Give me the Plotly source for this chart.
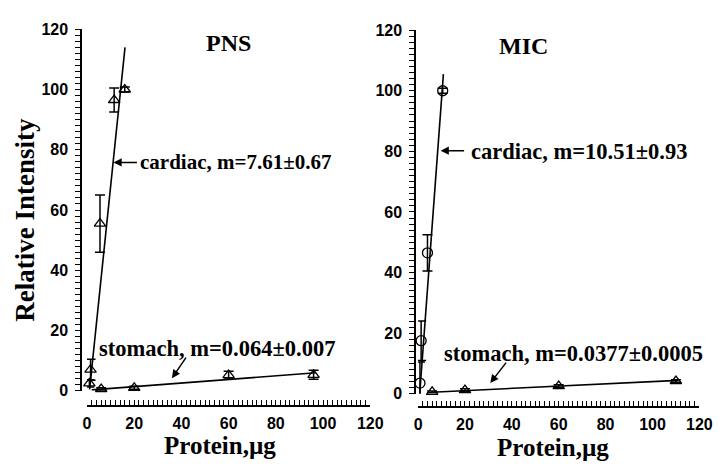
import plotly.graph_objects as go

W, H = 727, 476

# ---- data ----
# PNS panel
pns_card_x = [1.5, 5.5, 11.5, 16.0]
pns_card_y = [7.0, 55.5, 96.5, 100.0]
pns_card_err = [3.5, 9.5, 4.0, 0.8]
pns_stom_x = [1.0, 6.0, 20.0, 60.0, 96.0]
pns_stom_y = [2.5, 0.6, 1.0, 5.2, 5.3]
pns_stom_err = [1.2, 0.4, 0.5, 1.3, 1.5]
pns_card_fit_x = [1.1, 16.1]
pns_card_fit_y = [0.5, 114.0]
pns_stom_fit_x = [2.0, 97.0]
pns_stom_fit_y = [0.3, 6.0]

# MIC panel
mic_card_x = [0.8, 1.3, 4.0, 10.5]
mic_card_y = [3.5, 17.5, 46.5, 100.0]
mic_card_err = [7.0, 6.5, 6.0, 0.8]
mic_stom_x = [6.0, 20.0, 60.0, 110.0]
mic_stom_y = [0.6, 1.2, 2.5, 4.2]
mic_stom_err = [0.3, 0.4, 0.5, 0.4]
mic_card_fit_x = [0.7, 10.8]
mic_card_fit_y = [0.0, 105.5]
mic_stom_fit_x = [6.0, 111.0]
mic_stom_fit_y = [0.5, 4.4]

axis_range = [0, 120]
tick_labels = ["0", "20", "40", "60", "80", "100", "120"]
tick_positions = list(range(0, 121, 2))   # minor tick every 2, label every 20

panel_titles = ["PNS", "MIC"]
card_labels = ["cardiac, m=7.61\u00b10.67", "cardiac, m=10.51\u00b10.93"]
stom_labels = ["stomach, m=0.064\u00b10.007", "stomach, m=0.0377\u00b10.0005"]
x_title = "Protein,\u00b5g"
y_title = "Relative Intensity"

# ---- helpers ----
def px(x):
    return x / W

def py(y):
    return 1 - y / H

SERIF = "Times New Roman, Liberation Serif, serif"
SANS = "Arial, Liberation Sans, sans-serif"

label_map = {int(t): t for t in tick_labels}
tick_text = [label_map.get(v, "") for v in tick_positions]

fig = go.Figure()
layout = {}

def add_panel(n, cx, cy, ce, csym, sx, sy, se, cfx, cfy, sfx, sfy):
    xa, ya = ("x" if n == 1 else f"x{n}"), ("y" if n == 1 else f"y{n}")
    for fx, fy in ((cfx, cfy), (sfx, sfy)):
        fig.add_trace(go.Scatter(x=fx, y=fy, mode="lines", xaxis=xa, yaxis=ya,
                                 line=dict(color="black", width=1.6), showlegend=False))
    for mx, my, me, sym in ((cx, cy, ce, csym), (sx, sy, se, "triangle-up-open")):
        fig.add_trace(go.Scatter(x=mx, y=my, mode="markers", xaxis=xa, yaxis=ya,
                                 marker=dict(symbol=sym, size=10, color="black",
                                             line=dict(width=1.3, color="black")),
                                 error_y=dict(type="data", array=me, color="black",
                                              thickness=1.5, width=5),
                                 cliponaxis=False, showlegend=False))

def shown_axis(tickdir, standoff):
    return dict(range=axis_range, visible=True,
                showline=True, linecolor="black", linewidth=1.6, showgrid=False, zeroline=False,
                tickmode="array", tickvals=tick_positions, ticktext=tick_text,
                ticks=tickdir, ticklen=5, tickwidth=1.3, tickcolor="black",
                tickfont=dict(family=SANS, size=16, color="black", weight="bold"),
                ticklabelstandoff=standoff)

def hidden_axis(domain, anchor, rng=axis_range):
    return dict(domain=domain, anchor=anchor, range=rng, visible=False,
                showgrid=False, zeroline=False)

def empty_trace(xa, ya):
    fig.add_trace(go.Scatter(x=[None], y=[None], xaxis=xa, yaxis=ya,
                             mode="markers", showlegend=False, hoverinfo="skip"))

def setup_panel(n, xd, yd, xline_y, yline_x, xs, ys):
    layout[f"xaxis{xs}"] = dict(shown_axis("inside", 3), domain=[px(xd[0]), px(xd[1])],
                                anchor=f"y{xs}", side="bottom")
    layout[f"yaxis{xs}"] = hidden_axis([py(xline_y), py(xline_y - 4)], f"x{xs}")
    layout[f"yaxis{ys}"] = dict(shown_axis("outside", 4), domain=[py(yd[0]), py(yd[1])],
                                anchor=f"x{ys}", side="left")
    layout[f"xaxis{ys}"] = hidden_axis([px(yline_x), px(yline_x + 4)], f"y{ys}")
    empty_trace(f"x{xs}", f"y{xs}")
    empty_trace(f"x{ys}", f"y{ys}")
    xk = "xaxis" if n == 1 else f"xaxis{n}"
    yk = "yaxis" if n == 1 else f"yaxis{n}"
    layout[xk] = hidden_axis([px(xd[0]), px(xd[1])], "y" if n == 1 else f"y{n}")
    layout[yk] = hidden_axis([py(yd[0]), py(yd[1])], "x" if n == 1 else f"x{n}")

setup_panel(1, (85, 375), (397, 22), 412, 80, 3, 4)
setup_panel(2, (424, 712), (400, 23), 413, 422, 5, 6)

add_panel(1, pns_card_x, pns_card_y, pns_card_err, "triangle-up-open",
          pns_stom_x, pns_stom_y, pns_stom_err,
          pns_card_fit_x, pns_card_fit_y, pns_stom_fit_x, pns_stom_fit_y)
add_panel(2, mic_card_x, mic_card_y, mic_card_err, "circle-open",
          mic_stom_x, mic_stom_y, mic_stom_err,
          mic_card_fit_x, mic_card_fit_y, mic_stom_fit_x, mic_stom_fit_y)

fig.update_layout(width=W, height=H, margin=dict(l=0, r=0, t=0, b=0),
                  paper_bgcolor="white", plot_bgcolor="rgba(0,0,0,0)", **layout)

ann = []
def text_ann(x, y, text, size, xanchor="center", angle=0):
    ann.append(dict(x=px(x), y=py(y), xref="paper", yref="paper", text=text, showarrow=False,
                    xanchor=xanchor, yanchor="middle", textangle=angle,
                    font=dict(family=SERIF, size=size, color="black", weight="bold")))

def arrow_ann(xa, ya, hx, hy, dx, dy):
    ann.append(dict(x=hx, y=hy, xref=xa, yref=ya, text="", showarrow=True,
                    ax=dx, ay=dy, axref="pixel", ayref="pixel",
                    arrowhead=2, arrowsize=1.1, arrowwidth=1.5, arrowcolor="black"))

text_ann(230, 36, panel_titles[0], 24)
text_ann(532, 39, panel_titles[1], 24)
text_ann(137, 160, card_labels[0], 21, xanchor="left")
text_ann(476, 149, card_labels[1], 22.5, xanchor="left")
text_ann(218, 353, stom_labels[0], 22.5)
text_ann(583, 358, stom_labels[1], 22.5)
text_ann(221, 454, x_title, 25)
text_ann(562, 456, x_title, 25)
text_ann(22, 219, y_title, 27, angle=-90)

arrow_ann("x", "y", 11.2, 75.8, 25, 0)
arrow_ann("x", "y", 36.0, 4.2, 15, -22)
arrow_ann("x2", "y2", 9.6, 80.2, 25, 0)
arrow_ann("x2", "y2", 30.8, 3.5, 17, -22)

fig.update_layout(annotations=ann)

fig.write_html("out.html")
